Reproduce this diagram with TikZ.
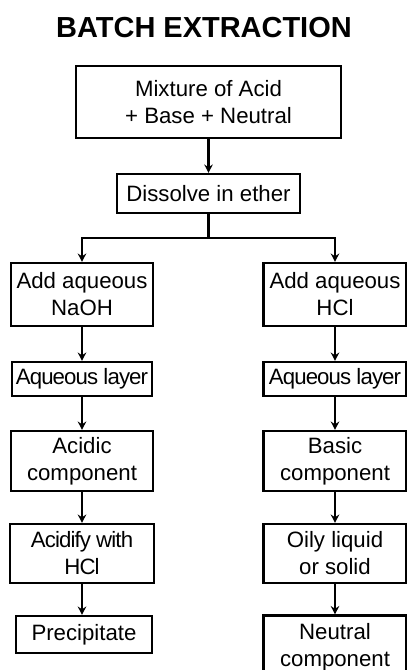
\documentclass[tikz,border=0pt]{standalone}
\usepackage{fontspec}
\setmainfont{Liberation Sans}
\newfontfamily\tightfont[LetterSpace=-4]{Liberation Sans}
\usetikzlibrary{arrows.meta}
\newdimen\pxunit \pxunit=0.025cm

\begin{document}
\begin{tikzpicture}[x=0.025cm,y=-0.025cm,
  every node/.style={font=\fontsize{15.8}{19.2}\selectfont},
  box/.style={draw,line width=1.5pt,align=center,inner sep=0pt},
  tight/.style={font=\fontsize{15.8}{19.2}\tightfont},
  flow/.style={line width=1.5pt,-{Stealth[length=6pt,width=6pt]}}]
  \useasboundingbox (0,0) rectangle (407,670);
  % title
  \node[font=\fontsize{20.6}{24}\selectfont\bfseries] (title) at (204,28) {BATCH EXTRACTION};
  % common steps
  \node[box,minimum width=265\pxunit,minimum height=72\pxunit] (mix) at (208.5,102) {Mixture of Acid\\+ Base + Neutral};
  \node[box,minimum width=183\pxunit,minimum height=39\pxunit] (diss) at (208.5,193.5) {Dissolve in ether};
  \coordinate (split) at (208.5,238);
  % acid branch
  \node[box,minimum width=142\pxunit,minimum height=63\pxunit] (naoh) at (82,294.5) {Add aqueous\\NaOH};
  \node[box,tight,minimum width=140\pxunit,minimum height=34\pxunit] (aqa) at (82,379) {Aqueous layer};
  \node[box,minimum width=142\pxunit,minimum height=60\pxunit] (acidic) at (82,461) {Acidic\\component};
  \node[box,tight,minimum width=144\pxunit,minimum height=59\pxunit] (acidify) at (82,553.5) {Acidify with\\HCl};
  \node[box,minimum width=136\pxunit,minimum height=37\pxunit] (precip) at (84,634.5) {Precipitate};
  % base branch
  \node[box,minimum width=143\pxunit,minimum height=63\pxunit] (hcl) at (335,294.5) {Add aqueous\\HCl};
  \node[box,tight,minimum width=143\pxunit,minimum height=34\pxunit] (aqb) at (335,379) {Aqueous layer};
  \node[box,minimum width=143\pxunit,minimum height=60\pxunit] (basic) at (335,461) {Basic\\component};
  \node[box,minimum width=143\pxunit,minimum height=59\pxunit] (oily) at (335,553.5) {Oily liquid\\or solid};
  \node[box,minimum width=143\pxunit,minimum height=63\pxunit] (neutral) at (335,647) {Neutral\\component};
  % connectors
  \draw[flow] (mix) -- (diss);
  \draw[line width=1.5pt] (diss) -- (split);
  \draw[flow] (split) -| (naoh);
  \draw[flow] (split) -| (hcl);
  \draw[flow] (naoh) -- (aqa);
  \draw[flow] (aqa) -- (acidic);
  \draw[flow] (acidic) -- (acidify);
  \draw[flow] (acidify.south) -- (acidify.south |- precip.north);
  \draw[flow] (hcl) -- (aqb);
  \draw[flow] (aqb) -- (basic);
  \draw[flow] (basic) -- (oily);
  \draw[flow] (oily) -- (neutral);
\end{tikzpicture}
\end{document}
